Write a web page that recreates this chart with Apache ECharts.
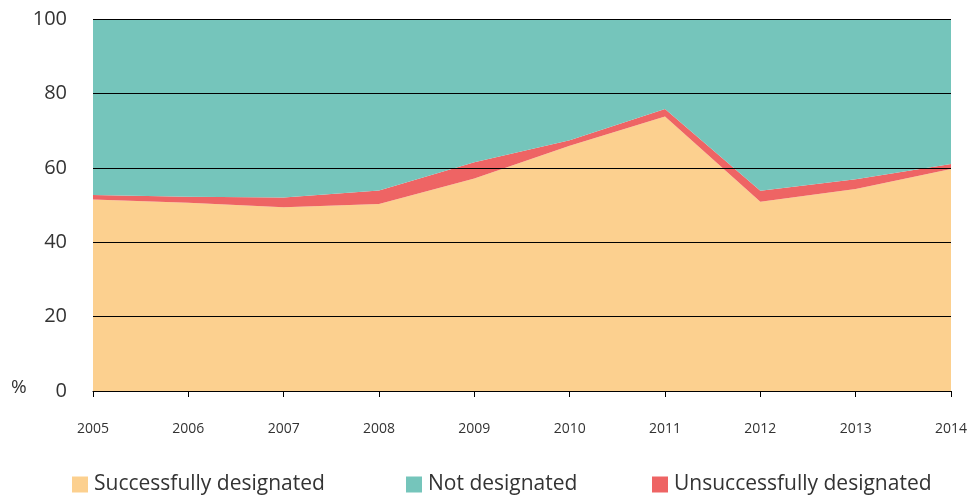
<!DOCTYPE html>
<html>
<head>
<meta charset="utf-8">
<script src="https://cdn.jsdelivr.net/npm/echarts@6/dist/echarts.min.js"></script>
<style>
  html, body { margin: 0; padding: 0; background: #fff; }
  #chart { width: 976px; height: 495px; }
</style>
</head>
<body>
<div id="chart"></div>
<script>
var years = ['2005', '2006', '2007', '2008', '2009', '2010', '2011', '2012', '2013', '2014'];
var successful = [51.5, 50.6, 49.4, 50.3, 57.1, 65.9, 73.8, 50.9, 54.3, 59.7];
var unsuccessful = [1.2, 1.6, 2.6, 3.6, 4.4, 1.5, 2.0, 2.9, 2.6, 1.3];
var notDesignated = [];
for (var i = 0; i < years.length; i++) {
  notDesignated.push(+(100 - successful[i] - unsuccessful[i]).toFixed(1));
}
var yTicks = [0, 20, 40, 60, 80, 100];
var legendNames = ['Successfully designated', 'Not designated', 'Unsuccessfully designated'];

var fontFamily = '"Open Sans", Lato, sans-serif';

var myChart = echarts.init(document.getElementById('chart'));

function areaSeries(name, data, color) {
  return {
    name: name,
    type: 'line',
    stack: 'total',
    data: data,
    symbol: 'none',
    z: 1,
    lineStyle: { width: 0 },
    areaStyle: { color: color, opacity: 1 },
    itemStyle: { color: color },
    emphasis: { disabled: true }
  };
}

// one legend per item, so each sits where the original puts it
var legendLeft = [72, 406, 652];
var legends = [];
for (var k = 0; k < legendNames.length; k++) {
  legends.push({
    top: 474,
    left: legendLeft[k],
    padding: 0,
    itemWidth: 16,
    itemHeight: 16,
    icon: 'rect',
    data: [legendNames[k]],
    textStyle: { fontFamily: fontFamily, fontSize: 21, color: '#333', padding: [0, 0, 0, 1] }
  });
}

myChart.setOption({
  animation: false,
  grid: { left: 93, right: 25, top: 19, bottom: 104 },
  legend: legends,
  graphic: [{
    type: 'text',
    left: 11,
    top: 378,
    style: { text: '%', fontFamily: fontFamily, fontSize: 19, fill: '#333' }
  }],
  xAxis: {
    type: 'category',
    boundaryGap: false,
    data: years,
    z: 5,
    axisLine: { lineStyle: { color: '#000', width: 1 } },
    axisTick: { show: true, alignWithLabel: true, length: 6, lineStyle: { color: '#000' } },
    axisLabel: { fontFamily: fontFamily, fontSize: 14, color: '#333', margin: 31 },
    splitLine: { show: false }
  },
  yAxis: {
    type: 'value',
    min: yTicks[0],
    max: yTicks[yTicks.length - 1],
    interval: 20,
    z: 5,
    axisLine: { show: false },
    axisTick: { show: false },
    axisLabel: { fontFamily: fontFamily, fontSize: 20, color: '#333', margin: 26 },
    splitLine: { show: true, lineStyle: { color: '#000', width: 1 } }
  },
  series: [
    areaSeries('Successfully designated', successful, '#fcd08f'),
    areaSeries('Unsuccessfully designated', unsuccessful, '#ee6464'),
    areaSeries('Not designated', notDesignated, '#75c5bb')
  ]
});
</script>
</body>
</html>
